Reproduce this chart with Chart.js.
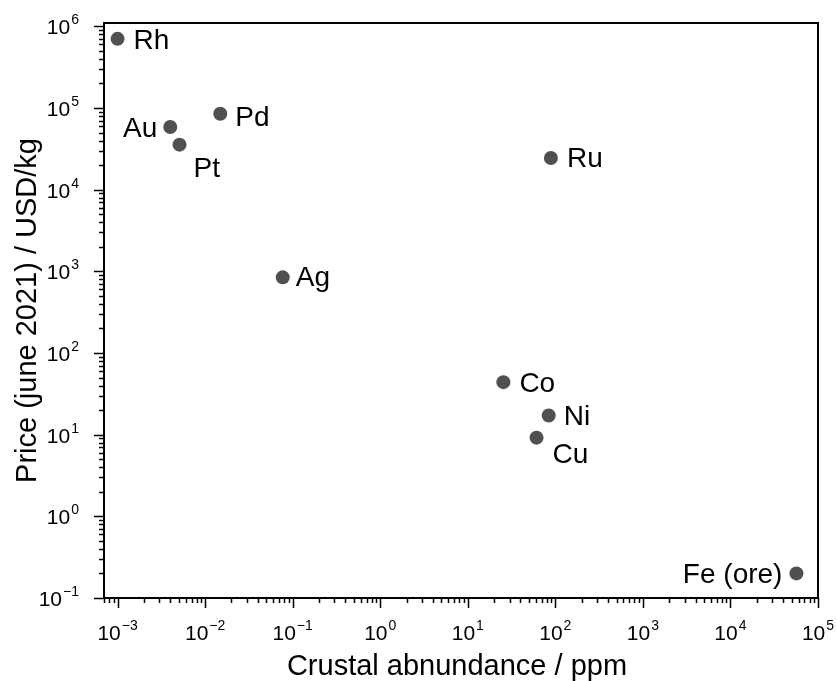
<!DOCTYPE html>
<html>
<head>
<meta charset="utf-8">
<script src="https://cdn.jsdelivr.net/npm/chart.js@4"></script>
<style>
  html, body { margin: 0; padding: 0; background: #fff; }
  #wrap { width: 837px; height: 681px; }
</style>
</head>
<body>
<div id="wrap"><canvas id="chartContainer" width="837" height="681"></canvas></div>
<script>
const elements = ['Rh', 'Au', 'Pt', 'Pd', 'Ru', 'Ag', 'Co', 'Ni', 'Cu', 'Fe (ore)'];
const abundance = [0.001, 0.004, 0.0051, 0.0149, 89, 0.077, 25.5, 84, 61, 56700];
const price = [704000, 58500, 35600, 85000, 24400, 845, 44, 17.2, 9.2, 0.2];
const xExponents = [-3, -2, -1, 0, 1, 2, 3, 4, 5];
const yExponents = [-1, 0, 1, 2, 3, 4, 5, 6];

const FONT = '"Liberation Sans", Arial, sans-serif';
const ctx = document.getElementById('chartContainer').getContext('2d');

// where each element label sits relative to its dot
const labelPlace = {
  'Rh': ['left', 16, 0], 'Au': ['right', -13, 0], 'Pt': ['left', 14, 22],
  'Pd': ['left', 15, 2], 'Ru': ['left', 16, -1], 'Ag': ['left', 13, -1],
  'Co': ['left', 16, 0], 'Ni': ['left', 15, 0], 'Cu': ['left', 16, 15],
  'Fe (ore)': ['right', -14, 0]
};

function drawPower(c, exp, x, y, align) {
  const sup = String(exp).replace('-', '\u2212');
  c.font = '21px ' + FONT;
  const wBase = c.measureText('10').width;
  c.font = '14px ' + FONT;
  const wSup = c.measureText(sup).width;
  const total = wBase + 1 + wSup;
  let start = align === 'center' ? x - total / 2 : x - total;
  c.textAlign = 'left';
  c.textBaseline = 'alphabetic';
  c.font = '21px ' + FONT;
  c.fillText('10', start, y);
  c.font = '14px ' + FONT;
  c.fillText(sup, start + wBase + 1, y - 10);
}

const axesPlugin = {
  id: 'axesPlugin',
  afterDraw(chart) {
    const c = chart.ctx;
    const a = chart.chartArea;
    const xs = chart.scales.x, ys = chart.scales.y;
    c.save();
    c.fillStyle = '#000';
    c.strokeStyle = '#000';

    // ticks, major 10px and minor 5px, pointing outward
    c.lineWidth = 1.5;
    c.beginPath();
    for (let e = -4; e <= 5; e++) {
      for (let k = 1; k <= 9; k++) {
        const v = k * Math.pow(10, e);
        if (v < xs.min * 0.999 || v > xs.max * 1.001) continue;
        const px = Math.round(xs.getPixelForValue(v)) + 0.5;
        const len = k === 1 ? 10 : 5;
        c.moveTo(px, a.bottom);
        c.lineTo(px, a.bottom + len);
      }
    }
    for (let e = -1; e <= 6; e++) {
      for (let k = 1; k <= 9; k++) {
        const v = k * Math.pow(10, e);
        if (v < ys.min * 0.999 || v > ys.max * 1.001) continue;
        const py = Math.round(ys.getPixelForValue(v)) + 0.5;
        const len = k === 1 ? 10 : 5;
        c.moveTo(a.left, py);
        c.lineTo(a.left - len, py);
      }
    }
    c.stroke();

    // frame
    c.lineWidth = 2;
    c.strokeRect(a.left, a.top, a.right - a.left, a.bottom - a.top);

    // tick labels
    xExponents.forEach(e => {
      drawPower(c, e, xs.getPixelForValue(Math.pow(10, e)), a.bottom + 42, 'center');
    });
    yExponents.forEach(e => {
      drawPower(c, e, 79, ys.getPixelForValue(Math.pow(10, e)) + 8, 'right');
    });

    // axis titles
    c.font = '29px ' + FONT;
    c.textAlign = 'center';
    c.textBaseline = 'alphabetic';
    c.fillText('Crustal abnundance / ppm', 457, 675);
    c.save();
    c.translate(36, (a.top + a.bottom) / 2);
    c.rotate(-Math.PI / 2);
    c.fillText('Price (june 2021) / USD/kg', 0, 0);
    c.restore();

    // element labels
    const meta = chart.getDatasetMeta(0);
    c.font = '28px ' + FONT;
    meta.data.forEach((pt, i) => {
      const p = labelPlace[elements[i]];
      c.textAlign = p[0];
      c.fillText(elements[i], pt.x + p[1], pt.y + p[2] + 10);
    });
    c.restore();
  }
};

const myChart = new Chart(ctx, {
  type: 'scatter',
  data: {
    labels: elements,
    datasets: [{
      data: abundance.map((v, i) => ({ x: v, y: price[i] })),
      backgroundColor: '#505050',
      borderColor: '#505050',
      pointRadius: 7,
      pointHoverRadius: 7,
      borderWidth: 0
    }]
  },
  options: {
    responsive: false,
    animation: false,
    events: [],
    clip: false,
    layout: { padding: { left: 104, right: 19, top: 23, bottom: 83 } },
    plugins: { legend: { display: false }, tooltip: { enabled: false } },
    scales: {
      x: { type: 'logarithmic', display: false, min: 0.0007, max: 100000, bounds: 'data' },
      y: { type: 'logarithmic', display: false, min: 0.1, max: 1100000, bounds: 'data' }
    }
  },
  plugins: [axesPlugin]
});
</script>
</body>
</html>
